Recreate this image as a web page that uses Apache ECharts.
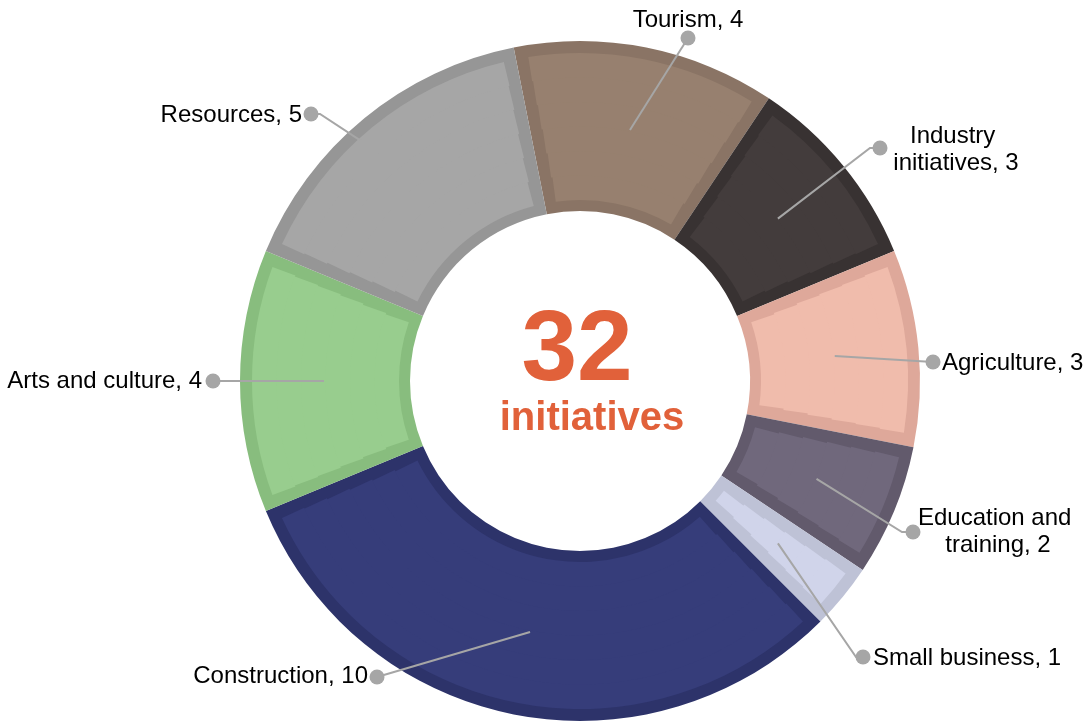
<!DOCTYPE html>
<html lang="en">
<head>
<meta charset="UTF-8">
<title>Initiatives by sector</title>
<script src="https://cdn.jsdelivr.net/npm/echarts@6/dist/echarts.min.js"></script>
<style>
    html, body { margin: 0; padding: 0; background: #fff; }
    #chart { width: 1090px; height: 722px; }
</style>
</head>
<body>
<div id="chart"></div>
<script>
    // data
    var categories = ['Tourism', 'Industry initiatives', 'Agriculture', 'Education and training',
                      'Small business', 'Construction', 'Arts and culture', 'Resources'];
    var counts = [4, 3, 3, 2, 1, 10, 4, 5];
    var totalCaption = 'initiatives';

    // colours: fill and the darker inner rim of each slice
    var fillColors = ['#97806f', '#433c3c', '#f0bcac', '#70687c', '#d0d4ea', '#363d7a', '#98cd8e', '#a6a6a6'];
    var rimColors  = ['#8a7465', '#383232', '#dea89a', '#625a6c', '#bec2d6', '#2d336a', '#88bd7e', '#969696'];

    var total = counts.reduce(function (a, b) { return a + b; }, 0);

    // layout
    var CX = 580, CY = 381;
    var R_IN = 170, R_OUT = 340, RIM = 12;
    var START = 101.25;
    var FONT = '"Liberation Sans", Arial, sans-serif';
    var GREY = '#a6a6a6';
    var ORANGE = '#e1613a';

    // where each label's dot sits, the short flat bit before it, and where the text goes
    var spots = [
        { x: 688, y: 38,  elbow: 0,  r0: 256, tx: 0,   ty: -18, align: 'center' },
        { x: 880, y: 148, elbow: 10, r0: 256, tx: 76,  ty: 2,   align: 'center', wrap: 140 },
        { x: 933, y: 362, elbow: 0,  r0: 256, tx: 9,   ty: 1,   align: 'left' },
        { x: 913, y: 532, elbow: 11, r0: 256, tx: 85,  ty: 0,   align: 'center', wrap: 170 },
        { x: 863, y: 657, elbow: 7,  r0: 256, tx: 10,  ty: 1,   align: 'left' },
        { x: 377, y: 677, elbow: 0,  r0: 256, tx: -9,  ty: -1,  align: 'right' },
        { x: 213, y: 381, elbow: 0,  r0: 256, tx: -11, ty: 0,   align: 'right' },
        { x: 311, y: 114, elbow: 9,  r0: 325, tx: -9,  ty: 1,   align: 'right', turn: 3 }
    ];

    function midAngle(i) {
        var before = 0;
        for (var k = 0; k < i; k++) before += counts[k];
        return (START - (before + counts[i] / 2) / total * 360) * Math.PI / 180;
    }

    function pieData(colors) {
        return categories.map(function (name, i) {
            var item = { name: name, value: counts[i] };
            if (colors) item.itemStyle = { color: colors[i] };
            return item;
        });
    }

    var series = [];

    // darker rim underneath
    series.push({
        type: 'pie',
        z: 1,
        center: [CX, CY],
        radius: [R_IN, R_OUT],
        startAngle: START,
        silent: true,
        label: { show: false },
        labelLine: { show: false },
        data: pieData(rimColors)
    });

    // lighter fill on top, split in thin rings so the gaps stay about RIM px wide
    var rings = 6;
    var f0 = R_IN + RIM - 1, f1 = R_OUT - RIM;
    for (var k = 0; k < rings; k++) {
        var a = f0 + (f1 - f0) * k / rings;
        var b = f0 + (f1 - f0) * (k + 1) / rings;
        var mid = (a + b) / 2;
        series.push({
            type: 'pie',
            z: 2,
            center: [CX, CY],
            radius: [a, k === rings - 1 ? b : b + 1],
            startAngle: START,
            padAngle: (2 * RIM) / mid * 180 / Math.PI,
            silent: true,
            label: { show: false },
            labelLine: { show: false },
            data: pieData(fillColors)
        });
    }

    // leader lines with the grey dots, above the ring
    series.push({
        type: 'pie',
        z: 10,
        center: [CX, CY],
        radius: [0, 256],
        startAngle: START,
        silent: true,
        avoidLabelOverlap: false,
        itemStyle: { color: 'rgba(0,0,0,0)' },
        label: {
            show: true,
            position: 'outside',
            formatter: '{d|}',
            rich: { d: { width: 15, height: 15, borderRadius: 8, backgroundColor: GREY } }
        },
        labelLine: { show: true, lineStyle: { color: GREY, width: 2 } },
        labelLayout: function (params) {
            var i = params.dataIndex, s = spots[i];
            var ang = midAngle(i) + (s.turn || 0) * Math.PI / 180;
            var p0 = [CX + s.r0 * Math.cos(ang), CY - s.r0 * Math.sin(ang)];
            var dir = s.x >= CX ? 1 : -1;
            return {
                x: s.x, y: s.y, align: 'center', verticalAlign: 'middle',
                labelLinePoints: [p0, [s.x - dir * s.elbow, s.y], [s.x, s.y]]
            };
        },
        data: pieData(null)
    });

    // label text
    series.push({
        type: 'pie',
        z: 11,
        center: [CX, CY],
        radius: [0, 256],
        startAngle: START,
        silent: true,
        avoidLabelOverlap: false,
        itemStyle: { color: 'rgba(0,0,0,0)' },
        label: {
            show: true,
            position: 'outside',
            color: '#000',
            fontFamily: FONT,
            fontSize: 24,
            lineHeight: 27,
            formatter: '{b}, {c}'
        },
        labelLine: { show: false },
        labelLayout: function (params) {
            var s = spots[params.dataIndex];
            return { x: s.x + s.tx, y: s.y + s.ty, align: s.align, verticalAlign: 'middle' };
        },
        data: categories.map(function (name, i) {
            var item = { name: name, value: counts[i] };
            if (spots[i].wrap) item.label = { width: spots[i].wrap, overflow: 'break', align: 'center' };
            return item;
        })
    });

    var chart = echarts.init(document.getElementById('chart'));
    chart.setOption({
        animation: false,
        backgroundColor: '#fff',
        graphic: [
            {
                type: 'text', x: 577, y: 352, silent: true,
                style: {
                    text: String(total), fill: ORANGE,
                    font: 'bold 100px ' + FONT,
                    align: 'center', verticalAlign: 'middle',
                    textAlign: 'center', textVerticalAlign: 'middle'
                }
            },
            {
                type: 'text', x: 592, y: 419, silent: true,
                style: {
                    text: totalCaption, fill: ORANGE,
                    font: 'bold 40px ' + FONT,
                    align: 'center', verticalAlign: 'middle',
                    textAlign: 'center', textVerticalAlign: 'middle'
                }
            }
        ],
        series: series
    });
</script>
</body>
</html>
